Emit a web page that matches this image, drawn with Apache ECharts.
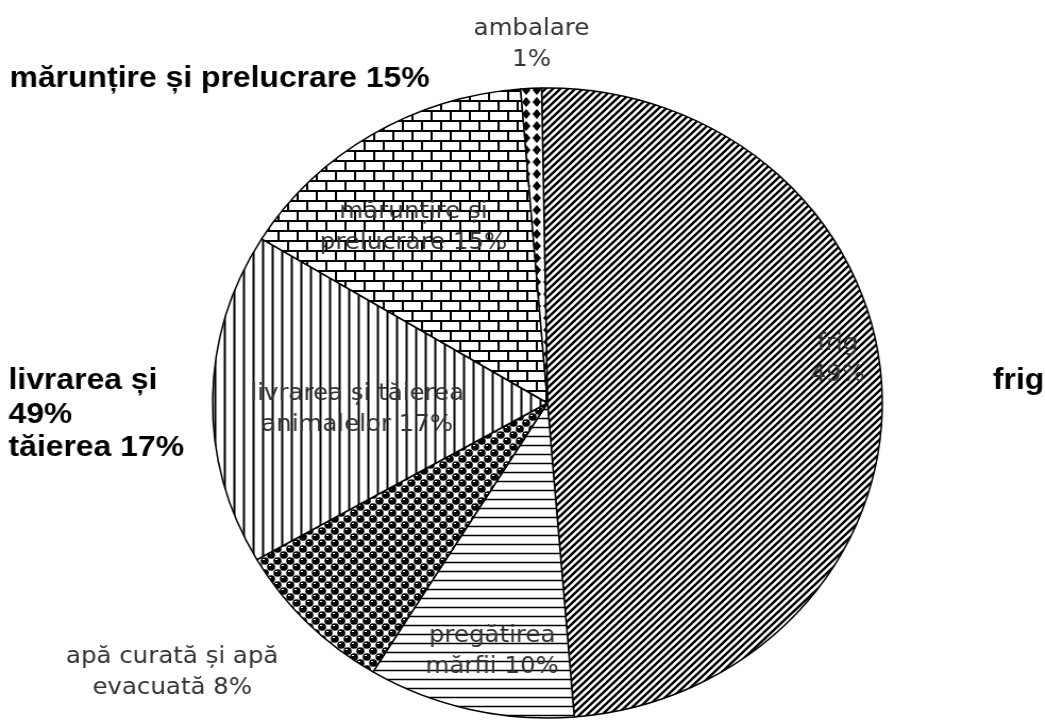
<!DOCTYPE html>
<html>
<head>
<meta charset="utf-8">
<script src="https://cdn.jsdelivr.net/npm/echarts@6/dist/echarts.min.js"></script>
<style>
  html, body { margin: 0; padding: 0; background: #fff; overflow: hidden; }
  /* imaginea originala e usor intinsa pe orizontala */
  #chart { width: 983px; height: 722px; transform: scaleX(1.063); transform-origin: 0 0; }
</style>
</head>
<body>
<div id="chart"></div>
<script>
// date grafic
var categories = ['frig', 'pregătirea mărfii', 'apă curată și apă evacuată', 'livrarea și tăierea animalelor', 'mărunțire și prelucrare', 'ambalare'];
var shares = [49, 10, 8, 17, 15, 1];
var labelHead = ['frig', 'pregătirea', 'apă curată și apă', 'livrarea și tăierea', 'mărunțire și', 'ambalare'];
var labelTail = ['', 'mărfii ', 'evacuată ', 'animalelor ', 'prelucrare ', ''];

// pozitia etichetelor (centru)
var labelPos = [[788, 360], [463, 652], [162, 673], [336, 410], [389, 228], [500, 45]];

// texte bold din afara
var sideNotes = [
    {text: 'mărunțire și prelucrare 15%', x: 9, y: 79},
    {text: 'livrarea și', x: 8, y: 381},
    {text: '49%', x: 8, y: 415},
    {text: 'tăierea 17%', x: 8, y: 448},
    {text: 'frig', x: 934, y: 381}
];

function makeTile(w, h, draw) {
    var c = document.createElement('canvas');
    c.width = w;
    c.height = h;
    var ctx = c.getContext('2d');
    ctx.fillStyle = '#fff';
    ctx.fillRect(0, 0, w, h);
    ctx.strokeStyle = '#000';
    ctx.fillStyle = '#000';
    draw(ctx, w, h);
    return {image: c, repeat: 'repeat'};
}

// hasuri
var diagonal = makeTile(7, 7, function (ctx, s) {
    ctx.lineWidth = 2.4;
    ctx.beginPath();
    ctx.moveTo(-1, s + 1); ctx.lineTo(s + 1, -1);
    ctx.moveTo(-2, 2); ctx.lineTo(2, -2);
    ctx.moveTo(s - 2, s + 2); ctx.lineTo(s + 2, s - 2);
    ctx.stroke();
});
var horizontal = makeTile(10, 9, function (ctx, w) {
    ctx.lineWidth = 1.5;
    ctx.beginPath();
    ctx.moveTo(0, 4.5); ctx.lineTo(w, 4.5);
    ctx.stroke();
});
var vertical = makeTile(9, 10, function (ctx, w, h) {
    ctx.lineWidth = 2;
    ctx.beginPath();
    ctx.moveTo(4.5, 0); ctx.lineTo(4.5, h);
    ctx.stroke();
});
var bricks = makeTile(18, 20, function (ctx, w, h) {
    ctx.lineWidth = 2;
    ctx.beginPath();
    ctx.moveTo(0, 1); ctx.lineTo(w, 1);
    ctx.moveTo(0, 11); ctx.lineTo(w, 11);
    ctx.moveTo(1, 1); ctx.lineTo(1, 11);
    ctx.moveTo(10, 11); ctx.lineTo(10, 21);
    ctx.stroke();
});
var dots = makeTile(12, 12, function (ctx) {
    [[3, 3], [9, 9], [-3, 9], [15, 3], [9, -3], [3, 15]].forEach(function (p) {
        ctx.fillStyle = '#000';
        ctx.beginPath();
        ctx.arc(p[0], p[1], 3.8, 0, Math.PI * 2);
        ctx.fill();
        ctx.fillStyle = '#fff';
        ctx.fillRect(p[0] - 2, p[1] - 2, 2, 1);
    });
});
var diamonds = makeTile(10, 12, function (ctx) {
    ctx.beginPath();
    ctx.moveTo(5, 1); ctx.lineTo(9, 6); ctx.lineTo(5, 11); ctx.lineTo(1, 6);
    ctx.closePath();
    ctx.fill();
});
var fills = [diagonal, horizontal, dots, vertical, bricks, diamonds];

var myChart = echarts.init(document.getElementById('chart'));

myChart.setOption({
    animation: false,
    backgroundColor: '#fff',
    graphic: sideNotes.map(function (n) {
        return {
            type: 'text',
            x: n.x,
            y: n.y,
            style: {
                text: n.text,
                font: 'bold 30px "Liberation Sans", Arial, sans-serif',
                fill: '#000',
                verticalAlign: 'middle'
            }
        };
    }),
    series: [{
        type: 'pie',
        center: [515, 403],
        radius: 315,
        startAngle: 91,
        clockwise: true,
        avoidLabelOverlap: false,
        itemStyle: {
            borderColor: '#000',
            borderWidth: 1.5
        },
        emphasis: {disabled: true},
        label: {
            show: true,
            position: 'inside',
            color: '#333',
            fontFamily: '"DejaVu Sans", sans-serif',
            fontSize: 23,
            lineHeight: 31,
            align: 'center',
            formatter: function (p) {
                return labelHead[p.dataIndex] + '\n' + labelTail[p.dataIndex] + p.value + '%';
            }
        },
        labelLine: {show: false},
        labelLayout: function (params) {
            var pos = labelPos[params.dataIndex];
            return {x: pos[0], y: pos[1], align: 'center', verticalAlign: 'middle'};
        },
        data: categories.map(function (name, i) {
            return {name: name, value: shares[i], itemStyle: {color: fills[i]}};
        })
    }]
});
</script>
</body>
</html>
